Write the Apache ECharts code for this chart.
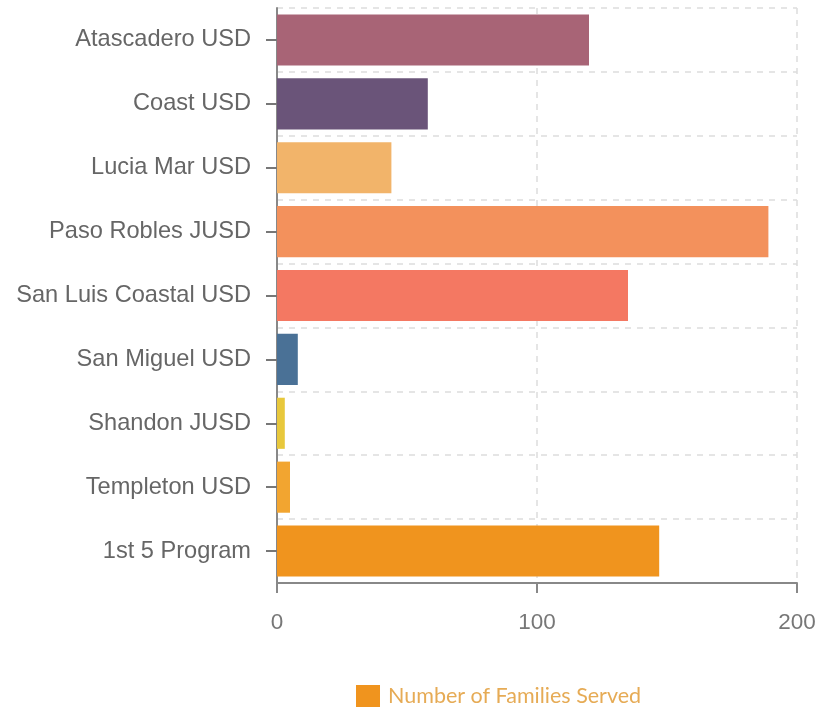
<!DOCTYPE html>
<html>
<head>
<meta charset="utf-8">
<script src="https://cdn.jsdelivr.net/npm/echarts@6/dist/echarts.min.js"></script>
<style>html,body{margin:0;padding:0;background:#fff}#c{width:830px;height:708px}</style>
</head>
<body>
<div id="c"></div>
<script>
const categories = ["Atascadero USD","Coast USD","Lucia Mar USD","Paso Robles JUSD","San Luis Coastal USD","San Miguel USD","Shandon JUSD","Templeton USD","1st 5 Program"];
const families = [120, 58, 44, 189, 135, 8, 3, 5, 147];
const barColors = ["#a86476","#6a5479","#f2b46a","#f3915c","#f47862","#4a7196","#e8c83c","#f2a530","#f0941e"];
const xTicks = [0, 100, 200];
const seriesName = "Number of Families Served";

const chart = echarts.init(document.getElementById('c'));
chart.setOption({
  animation: false,
  grid: {left: 277, right: 33, top: 8, bottom: 125, containLabel: false},
  legend: {
    top: 680, left: 351,
    itemWidth: 24, itemHeight: 22,
    icon: 'rect',
    textStyle: {color: '#e6ab55', fontSize: 21.5, fontFamily: 'Lato', padding: [0,0,0,3]},
    data: [seriesName]
  },
  xAxis: {
    type: 'value', min: xTicks[0], max: xTicks[xTicks.length-1], interval: 100,
    axisLine: {show: true, lineStyle: {color: '#888', width: 2}},
    axisTick: {show: true, length: 10, lineStyle: {color: '#888', width: 2}},
    axisLabel: {color: '#777', fontSize: 22.5, fontFamily: 'Liberation Sans', margin: 28},
    splitLine: {show: true, lineStyle: {color: '#ddd', type: [6,6], width: 1.5}}
  },
  yAxis: {
    type: 'category', data: categories, inverse: true,
    axisLine: {show: true, lineStyle: {color: '#888', width: 2}},
    axisTick: {show: true, alignWithLabel: true, length: 11, lineStyle: {color: '#777', width: 2}},
    axisLabel: {color: '#666', fontSize: 23.6, fontFamily: 'Liberation Sans', margin: 26, padding: [6,0,0,0]},
    splitLine: {show: true, lineStyle: {color: '#ddd', type: [6,6], width: 1.5}}
  },
  series: [{
    name: seriesName, type: 'bar', barCategoryGap: '20%',
    itemStyle: {color: '#f0941e'},
    data: families.map((v, i) => ({value: v, itemStyle: {color: barColors[i]}}))
  }]
});
</script>
</body>
</html>
